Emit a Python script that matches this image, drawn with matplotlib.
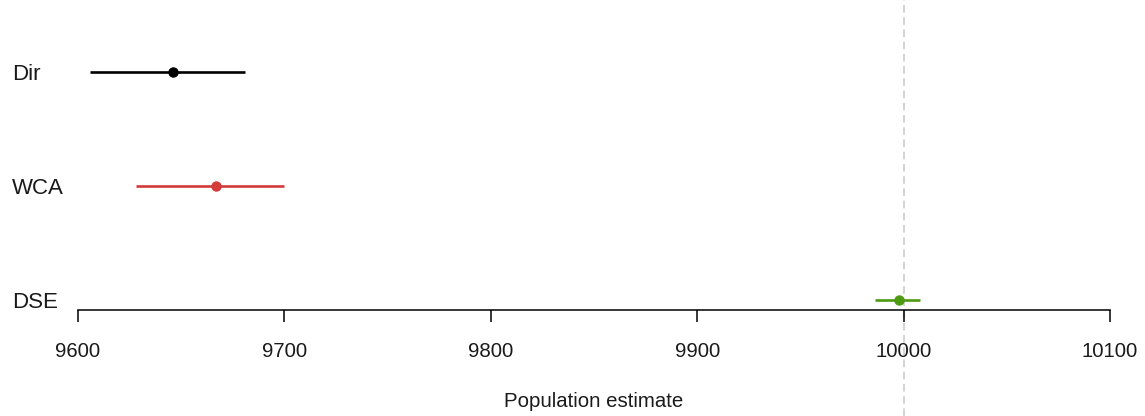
import matplotlib
matplotlib.use("Agg")
import matplotlib.pyplot as plt
from matplotlib.transforms import blended_transform_factory, ScaledTranslation

plt.rcParams['font.family'] = ['Liberation Sans', 'DejaVu Sans']

methods = ["Dir", "WCA", "DSE"]
estimates = [9646, 9667, 9998]
lower = [9606, 9628, 9986]
upper = [9681, 9700, 10008]
colors = ["#000000", "#D33A3A", "#4E9A12"]
true_value = 10000
xticks = [9600, 9700, 9800, 9900, 10000, 10100]

W, H = 1145, 416
fig = plt.figure(figsize=(W / 100, H / 100), dpi=100)
ax = fig.add_axes([78 / W, (H - 310) / H, (1110 - 78) / W, 310 / H])

ypos = [3, 2, 1]
label_trans = blended_transform_factory(fig.transFigure, ax.transData) + \
    ScaledTranslation(0, -3 / 100, fig.dpi_scale_trans)
for m, est, lo, hi, c, y in zip(methods, estimates, lower, upper, colors, ypos):
    ax.plot([lo, hi], [y, y], color=c, lw=1.9, solid_capstyle='butt', zorder=3)
    ax.plot([est], [y], 'o', color=c, ms=6.5, zorder=4)
    ax.text(12 / W, y, m, transform=label_trans,
            ha='left', va='center', fontsize=16, color='#1a1a1a')

trans = blended_transform_factory(ax.transData, fig.transFigure)
ax.plot([true_value, true_value], [0, 1], transform=trans, color='#c8c8c8',
        lw=1.1, dashes=(5, 3), clip_on=False, zorder=1)

ax.set_xlim(9600, 10100)
ax.set_ylim(1 - 10 / 114, 3 + 72 / 114)
ax.set_xticks(xticks)
ax.set_xticklabels([str(t) for t in xticks])
ax.set_yticks([])
for s in ['top', 'right', 'left']:
    ax.spines[s].set_visible(False)
ax.spines['bottom'].set_linewidth(1.1)
ax.tick_params(axis='x', length=8.6, width=1.1, pad=14.5, labelsize=14.7, labelcolor='#1a1a1a')
ax.set_xlabel("Population estimate", fontsize=14.7, labelpad=22, color='#1a1a1a')
ax.patch.set_alpha(0)

fig.savefig("out.png", dpi=100)
